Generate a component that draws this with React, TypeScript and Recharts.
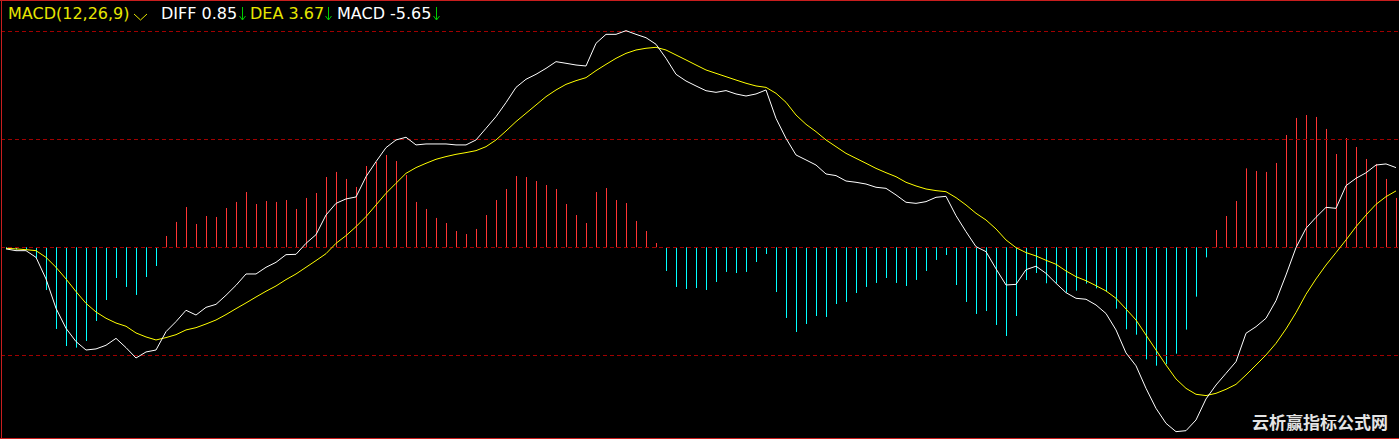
import { Bar, ComposedChart, Line, ReferenceLine, XAxis, YAxis } from "recharts";

const MACD = [
  -0.15, -0.2, -0.2, -1.0, -3.95, -7.56, -9.14, -9.29, -8.67, -6.82,
  -4.88, -2.84, -3.67, -4.41, -2.75, -1.73, 1.05, 2.35, 3.73, 2.16,
  2.9, 2.81, 3.64, 4.2, 5.12, 4.01, 4.29, 4.2, 4.38, 3.55,
  4.57, 5.03, 6.51, 6.98, 6.33, 5.59, 7.53, 7.9, 8.55, 7.99,
  6.7, 4.2, 3.55, 2.72, 2.25, 1.51, 1.23, 1.7, 2.99, 4.38,
  5.4, 6.6, 6.51, 6.14, 5.77, 5.4, 4.01, 2.99, 2.25, 5.12,
  5.49, 4.38, 4.1, 2.44, 1.51, 0.4, -2.19, -3.67, -3.86, -3.77,
  -3.95, -3.21, -2.28, -2.38, -2.28, -1.36, -0.62, -4.14, -6.54, -7.84,
  -7.1, -6.36, -6.45, -5.25, -5.06, -4.23, -3.67, -3.3, -2.84, -3.3,
  -3.58, -3.02, -2.19, -1.17, -0.71, -3.49, -5.06, -6.17, -5.9, -7.19,
  -8.21, -6.36, -3.03, -2.38, -3.33, -3.33, -4.2, -4.01, -3.36, -3.8,
  -4.1, -5.68, -7.59, -8.09, -10.37, -10.96, -10.83, -9.85, -7.62, -4.57,
  -0.93, 1.6, 2.9, 4.29, 7.31, 7.07, 6.98, 7.81, 10.4, 11.98,
  12.25, 12.07, 10.96, 8.64, 10.12, 9.29, 8.18, 7.72, 6.33, 4.57,
];

const DIFF = [
  -0.15, -0.31, -0.31, -0.93, -2.93, -5.65, -7.5, -8.73, -9.51, -9.41,
  -9.07, -8.43, -9.29, -10.25, -9.69, -9.51, -7.81, -6.88, -5.83, -6.27,
  -5.56, -5.28, -4.44, -3.52, -2.47, -2.47, -1.85, -1.39, -0.68, -0.65,
  0.37, 1.17, 2.99, 4.07, 4.48, 4.66, 6.54, 7.93, 9.23, 9.94,
  10.19, 9.48, 9.57, 9.57, 9.57, 9.48, 9.48, 9.94, 11.02, 12.1,
  13.4, 14.81, 15.56, 16.02, 16.57, 17.19, 17.04, 16.88, 16.79, 18.89,
  19.72, 19.72, 20.06, 19.72, 19.41, 18.8, 17.5, 16.02, 15.4, 14.94,
  14.5, 14.35, 14.51, 14.2, 14.01, 14.2, 14.57, 11.94, 10.09, 8.55,
  8.09, 7.62, 6.79, 6.64, 6.14, 6.02, 5.86, 5.56, 5.46, 4.85,
  4.17, 4.07, 4.23, 4.63, 4.72, 2.93, 1.45, 0.06, -0.4, -1.99,
  -3.49, -3.43, -2.07, -1.75, -2.41, -3.33, -4.2, -4.72, -4.81, -5.34,
  -6.13, -7.65, -9.78, -10.97, -13.06, -14.91, -16.3, -17.07, -16.98, -15.99,
  -14.04, -12.75, -11.67, -10.59, -7.96, -7.35, -6.57, -4.94, -2.56, -0.03,
  1.76, 2.78, 3.7, 3.61, 5.71, 6.39, 6.9, 7.62, 7.72, 7.38,
];

const DEA = [
  -0.09, -0.15, -0.22, -0.31, -0.93, -1.85, -2.93, -4.1, -5.19, -5.99,
  -6.57, -7.01, -7.31, -7.93, -8.3, -8.58, -8.36, -8.09, -7.65, -7.44,
  -7.1, -6.73, -6.23, -5.68, -5.15, -4.6, -4.07, -3.58, -2.99, -2.47,
  -1.85, -1.23, -0.59, 0.37, 1.08, 1.91, 2.84, 3.92, 5.0, 5.93,
  6.85, 7.38, 7.78, 8.15, 8.4, 8.61, 8.77, 8.95, 9.32, 9.94,
  10.77, 11.64, 12.41, 13.18, 13.95, 14.57, 15.09, 15.43, 15.71, 16.36,
  16.94, 17.5, 17.96, 18.27, 18.43, 18.52, 18.27, 17.81, 17.35, 16.88,
  16.42, 16.11, 15.8, 15.49, 15.19, 14.94, 14.81, 14.26, 13.43, 12.25,
  11.39, 10.71, 9.94, 9.32, 8.7, 8.24, 7.78, 7.31, 6.91, 6.54,
  6.02, 5.68, 5.4, 5.25, 5.15, 4.6, 3.92, 3.15, 2.53, 1.7,
  0.68, -0.03, -0.49, -0.8, -1.2, -1.57, -2.19, -2.72, -3.09, -3.55,
  -4.04, -4.72, -5.71, -6.73, -8.12, -9.51, -10.9, -12.19, -13.06, -13.61,
  -13.73, -13.52, -13.15, -12.69, -11.82, -10.9, -9.97, -8.89, -7.56, -6.05,
  -4.35, -2.93, -1.64, -0.49, 0.68, 1.91, 2.99, 3.98, 4.69, 5.22,
];

const GRID_LEVELS = [-10, 0, 10, 20];

const data = MACD.map((m, i) => ({ idx: i, macd: m, diff: DIFF[i], dea: DEA[i] }));

const RED = "#ff3434";
const CYAN = "#00ffff";
const GRID = "#a00000";
const FRAME = "#c81e1e";
const FONT = "'DejaVu Sans', Verdana, sans-serif";

// histogram stick, 1px wide, snapped to the pixel grid
const BarStick = (props: any) => {
  const { x, y, width, height, payload } = props;
  if (x == null || height == null) return null;
  const top = Math.min(y, y + height);
  const h = Math.abs(height);
  const cx = Math.round(x + width / 2);
  return <rect x={cx} y={top} width={1} height={h} fill={payload.macd >= 0 ? RED : CYAN} />;
};

const DownArrow = ({ left }: { left: number }) => (
  <svg style={{ position: "absolute", left, top: 7 }} width={8} height={14}>
    <line x1={3.5} y1={0} x2={3.5} y2={13} stroke="#00cc00" strokeWidth={1} />
    <polyline points="0.5,9 3.5,13 6.5,9" fill="none" stroke="#00cc00" strokeWidth={1} />
  </svg>
);

const label = (left: number, color: string) => ({
  position: "absolute" as const,
  left,
  top: 4,
  color,
  fontFamily: FONT,
  fontSize: 16,
  lineHeight: "19px",
  whiteSpace: "nowrap" as const,
});

export default function App() {
  return (
    <div
      style={{
        position: "fixed",
        left: 0,
        top: 0,
        width: 1399,
        height: 439,
        background: "#000",
        overflow: "hidden",
      }}
    >
      <ComposedChart width={1401} height={439} data={data} margin={{ top: 0, right: 0, bottom: 0, left: 1 }}>
        <XAxis dataKey="idx" hide />
        <YAxis hide domain={[-17.75, 22.9]} allowDataOverflow />
        {GRID_LEVELS.map((v) => (
          <ReferenceLine key={v} y={v} stroke={GRID} strokeDasharray="4 3" shapeRendering="crispEdges" />
        ))}
        <Bar dataKey="macd" shape={BarStick} isAnimationActive={false} />
        <Line type="linear" dataKey="dea" stroke="#ffff00" strokeWidth={1} dot={false} isAnimationActive={false} />
        <Line type="linear" dataKey="diff" stroke="#ffffff" strokeWidth={1} dot={false} isAnimationActive={false} />
      </ComposedChart>

      <div style={{ position: "absolute", left: 0, top: 0, width: 1399, height: 1, background: FRAME }} />
      <div style={{ position: "absolute", left: 1, top: 0, width: 1, height: 439, background: FRAME }} />
      <div style={{ position: "absolute", left: 0, top: 438, width: 1399, height: 1, background: FRAME }} />

      <span style={label(8, "#e6e600")}>MACD(12,26,9)</span>
      <svg style={{ position: "absolute", left: 133, top: 12 }} width={16} height={10}>
        <polyline points="1,2 7.5,8 14,2" fill="none" stroke="#e6e600" strokeWidth={1} />
      </svg>
      <span style={label(161, "#ffffff")}>DIFF 0.85</span>
      <DownArrow left={239} />
      <span style={label(250, "#e6e600")}>DEA 3.67</span>
      <DownArrow left={325} />
      <span style={label(337, "#ffffff")}>MACD -5.65</span>
      <DownArrow left={433} />

      <span
        style={{
          position: "absolute",
          left: 1252,
          top: 412,
          color: "#e4e4e4",
          fontFamily: "'Noto Sans CJK SC', sans-serif",
          fontWeight: 700,
          fontSize: 17,
          lineHeight: "20px",
          whiteSpace: "nowrap",
        }}
      >
        云析赢指标公式网
      </span>
    </div>
  );
}
